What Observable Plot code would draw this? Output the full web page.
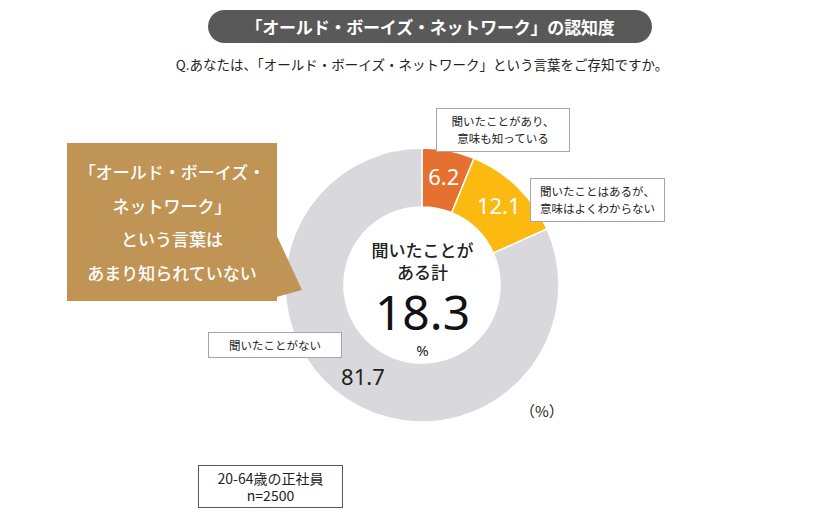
<!DOCTYPE html>
<html><head><meta charset="utf-8">
<script src="https://cdn.jsdelivr.net/npm/d3@7"></script>
<script src="https://cdn.jsdelivr.net/npm/@observablehq/plot@0.6"></script>
<style>
body{margin:0;background:#fff;font-family:"Noto Sans CJK JP","Noto Sans",sans-serif;color:#222;}
#wrap{position:relative;width:840px;height:520px;overflow:hidden;background:#fff;}
.abs{position:absolute;box-sizing:border-box;}
.title{left:208px;top:10px;width:444px;height:33px;border-radius:17px;background:#595959;color:#fff;font-weight:bold;font-size:17px;display:flex;align-items:center;justify-content:center;letter-spacing:-0.2px;}
.sub{left:2px;width:840px;top:54px;text-align:center;font-size:13.5px;color:#222;}
.lbl{background:#fff;border:1px solid #A6A6A6;font-size:11.5px;line-height:17px;text-align:center;display:flex;align-items:center;justify-content:center;color:#222;}
.callout{left:67px;top:143px;width:210px;height:158px;background:#C09455;color:#fff;font-size:17px;line-height:33.5px;text-align:center;padding-top:12px;font-weight:500;}
.sample{left:198px;top:465px;width:145px;height:43px;border:1px solid #595959;background:#fff;font-size:14px;line-height:17px;text-align:center;display:flex;flex-direction:column;justify-content:center;color:#222;}
.unit{left:520px;top:400px;font-size:15px;color:#222;}
</style></head><body><div id="wrap"></div>
<script>
// ---- data ----
const categories = ["聞いたことがあり、\n意味も知っている", "聞いたことはあるが、\n意味はよくわからない", "聞いたことがない"];
const values = [6.2, 12.1, 81.7];
const segmentColors = ["#E5702F", "#FCBA10", "#D9D8DD"];
const titleText = "「オールド・ボーイズ・ネットワーク」の認知度";
const questionText = "Q.あなたは、「オールド・ボーイズ・ネットワーク」という言葉をご存知ですか。";
const centerLabel = ["聞いたことが", "ある計"];
const calloutLines = ["「オールド・ボーイズ・", "ネットワーク」", "という言葉は", "あまり知られていない"];
const sampleLines = ["20-64歳の正社員", "n=2500"];
const unitLabel = "（%）";

// ---- geometry derived from data ----
const rows = categories.map((c, i) => ({category: c, value: values[i]}));
const arcs = d3.pie().sort(null).value(d => d.value)(rows);
const innerRatio = 0.57;
const labelR = 0.8;
const labelRows = arcs.map((a, i) => {
  const mid = (a.startAngle + a.endAngle) / 2;
  return {...a.data, lx: labelR * Math.sin(mid), ly: labelR * Math.cos(mid), idx: i};
});
const heardTotal = d3.sum(values.slice(0, 2));

const donutMark = (index, scales) => {
  const cx = scales.x(0), cy = scales.y(0);
  const R = scales.x(1) - scales.x(0);
  const arcGen = d3.arc().innerRadius(R * innerRatio).outerRadius(R);
  const g = d3.create("svg:g").attr("transform", `translate(${cx},${cy})`);
  g.selectAll("path").data(arcs).join("path")
    .attr("d", arcGen)
    .attr("fill", d => scales.color(d.data.category))
    .attr("stroke", "#fff")
    .attr("stroke-width", 1.5);
  return g.node();
};

const chart = Plot.plot({
  width: 840,
  height: 520,
  margin: 0,
  x: {domain: [-1, 1], range: [285, 559], axis: null},
  y: {domain: [-1, 1], range: [422, 148], axis: null},
  color: {domain: categories, range: segmentColors},
  style: {fontFamily: '"Noto Sans CJK JP","Noto Sans",sans-serif', background: "transparent"},
  marks: [
    donutMark,
    Plot.text(labelRows, {
      x: "lx", y: "ly", text: d => d.value.toFixed(1),
      fill: d => d.idx < 2 ? "#ffffff" : "#222222",
      fontSize: 22, fontFamily: '"Noto Sans","Noto Sans CJK JP",sans-serif'
    }),
    Plot.text([centerLabel.join("\n")], {x: () => 0, y: () => 0, text: d => d, dy: -25, fontSize: 17, fontWeight: 500, lineHeight: 1.3, fill: "#222"}),
    Plot.text([heardTotal.toFixed(1)], {x: () => 0, y: () => 0, text: d => d, dy: 29, fontSize: 48, fill: "#111", fontFamily: '"Noto Sans","Noto Sans CJK JP",sans-serif'}),
    Plot.text(["%"], {x: () => 0, y: () => 0, text: d => d, dy: 66, fontSize: 15, fill: "#222", fontFamily: '"Noto Sans",sans-serif'})
  ]
});

const wrap = document.getElementById("wrap");
chart.style.position = "absolute";
chart.style.left = "0px";
chart.style.top = "0px";
wrap.appendChild(chart);

function addDiv(cls, html, css) {
  const d = document.createElement("div");
  d.className = "abs " + cls;
  d.innerHTML = html;
  if (css) Object.assign(d.style, css);
  wrap.appendChild(d);
  return d;
}
addDiv("title", titleText);
addDiv("sub", questionText);
addDiv("lbl", categories[0].replace("\n", "<br>"), {left: "436px", top: "108px", width: "134px", height: "44px"});
addDiv("lbl", categories[1].replace("\n", "<br>"), {left: "530px", top: "178px", width: "135px", height: "44px"});
addDiv("lbl", categories[2], {left: "208px", top: "332px", width: "134px", height: "26px"});
// callout with tail
const ns = "http://www.w3.org/2000/svg";
const tail = document.createElementNS(ns, "svg");
tail.setAttribute("width", "840"); tail.setAttribute("height", "520");
tail.style.position = "absolute"; tail.style.left = "0"; tail.style.top = "0";
const poly = document.createElementNS(ns, "polygon");
poly.setAttribute("points", "276,234 302,290 262,301");
poly.setAttribute("fill", "#C09455");
tail.appendChild(poly);
wrap.appendChild(tail);
addDiv("callout", calloutLines.join("<br>"));
addDiv("sample", sampleLines.map(s => `<div>${s}</div>`).join(""));
addDiv("unit", unitLabel);
</script></body></html>
